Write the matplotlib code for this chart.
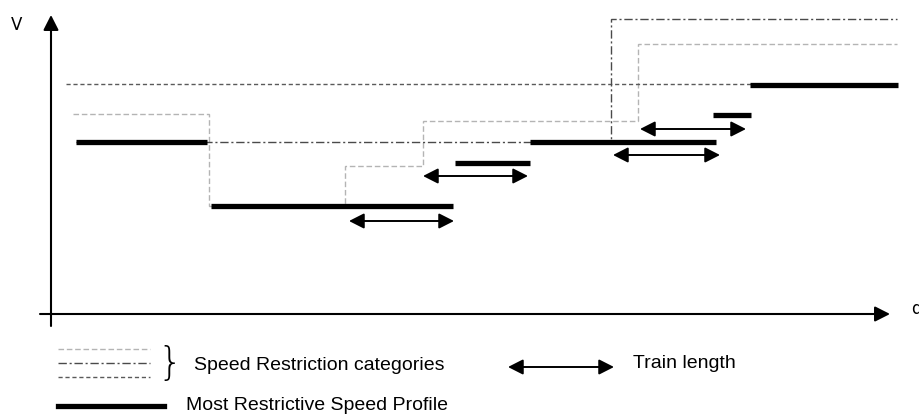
import numpy as np
import matplotlib.pyplot as plt

plt.rcParams['font.family'] = ['Liberation Sans', 'DejaVu Sans']

# Speed restriction categories (step profiles): edges along d, speed levels
cat_a_edges = [15, 847]
cat_a_speed = [230]
cat_b_edges = [22, 158, 294, 372, 587, 846]
cat_b_speed = [200, 108, 148, 193, 270]
cat_c_edges = [25, 560, 846]
cat_c_speed = [172, 295]

# Most restrictive speed profile segments
mrsp_start = [25, 160, 404, 479, 662, 699]
mrsp_end = [156, 402, 479, 665, 700, 847]
mrsp_speed = [172, 108, 151, 172, 199, 229]

# Train length arrows
train_start = [298, 372, 562, 589]
train_end = [403, 477, 669, 695]
train_speed = [93, 138, 159, 185]

fig = plt.figure(figsize=(9.2, 4.17), dpi=100)
ax = fig.add_axes([0, 0, 1, 1])
ax.set_xlim(-51, 869)
ax.set_ylim(-103, 314)
ax.axis('off')

light = dict(color='#b4b4b4', lw=1.0, linestyle=(0, (4, 2)))
dark = dict(color='#5a5a5a', lw=1.0, linestyle=(0, (3, 2)))
dashdot = dict(color='#4a4a4a', lw=1.0, linestyle=(0, (6, 2, 1.5, 2)))

ax.stairs(cat_b_speed, cat_b_edges, baseline=None, **light)
ax.stairs(cat_a_speed, cat_a_edges, baseline=None, **dark)
ax.stairs(cat_c_speed, cat_c_edges, baseline=None, **dashdot)

ax.hlines(mrsp_speed, mrsp_start, mrsp_end, color='black', lw=3.8)

arrow = dict(arrowstyle='<|-|>,head_length=0.65,head_width=0.33', color='black',
             lw=1.4, mutation_scale=14, shrinkA=0, shrinkB=0)
for s, e, v in zip(train_start, train_end, train_speed):
    ax.annotate('', xy=(e, v), xytext=(s, v), arrowprops=arrow)

# axes with arrows
axis_arrow = dict(arrowstyle='-|>,head_length=0.65,head_width=0.33', color='black',
                  lw=1.5, mutation_scale=14, shrinkA=0, shrinkB=0)
ax.annotate('', xy=(839, 0), xytext=(-11, 0), arrowprops=axis_arrow)
ax.annotate('', xy=(0, 299), xytext=(0, -12), arrowprops=axis_arrow)
ax.text(-34, 289, 'V', fontsize=12, ha='center', va='center', family='DejaVu Sans')
ax.text(865, 5, 'd', fontsize=12, ha='center', va='center', family='DejaVu Sans')

# legend
ax.plot([7, 99], [-35, -35], **light)
ax.plot([7, 99], [-49, -49], **dashdot)
ax.plot([7, 99], [-63, -63], **dark)
ax.text(119, -50, '}', fontsize=28, ha='center', va='center', family='DejaVu Sans',
        fontweight='light')
ax.text(143, -52, 'Speed Restriction categories', fontsize=14, va='center')
ax.annotate('', xy=(563, -53), xytext=(457, -53), arrowprops=arrow)
ax.text(582, -49, 'Train length', fontsize=14, va='center')
ax.plot([7, 113], [-92, -92], color='black', lw=3.8)
ax.text(135, -92, 'Most Restrictive Speed Profile', fontsize=14, va='center')

fig.savefig('out.png', dpi=100)
